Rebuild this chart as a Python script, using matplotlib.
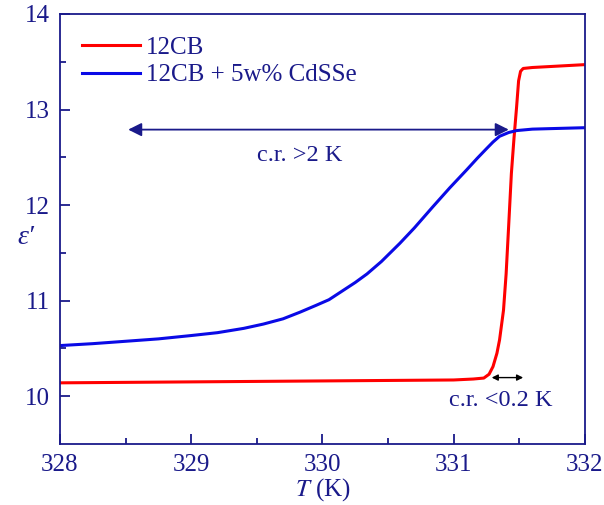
import matplotlib
matplotlib.use("Agg")
import matplotlib.pyplot as plt

NAVY = "#1a1a8a"

# 12CB (red)
t_pure = [328.0, 328.5, 329.0, 329.5, 330.0, 330.5, 331.0, 331.15, 331.23,
          331.27, 331.30, 331.33, 331.35, 331.38, 331.40, 331.42, 331.44,
          331.46, 331.48, 331.495, 331.51, 331.53, 331.6, 331.8, 332.0]
eps_pure = [10.14, 10.145, 10.15, 10.155, 10.16, 10.165, 10.17, 10.18, 10.19,
            10.23, 10.31, 10.45, 10.59, 10.90, 11.28, 11.80, 12.33,
            12.70, 13.03, 13.30, 13.40, 13.43, 13.44, 13.455, 13.47]

# 12CB + 5w% CdSSe (blue)
t_dop = [328.0, 328.25, 328.5, 328.75, 329.0, 329.2, 329.4, 329.55, 329.7,
         329.83, 329.95, 330.05, 330.15, 330.25, 330.34, 330.45, 330.59,
         330.7, 330.84, 330.97, 331.10, 331.18, 331.25, 331.30, 331.35,
         331.42, 331.48, 331.6, 331.73, 332.0]
eps_dop = [10.53, 10.55, 10.575, 10.60, 10.635, 10.665, 10.71, 10.755, 10.81,
           10.88, 10.95, 11.01, 11.10, 11.19, 11.28, 11.41, 11.60,
           11.76, 11.98, 12.18, 12.37, 12.49, 12.59, 12.66, 12.72,
           12.76, 12.78, 12.795, 12.80, 12.81]

x_ticks = [328, 329, 330, 331, 332]
y_ticks = [10, 11, 12, 13, 14]

plt.rcParams["font.family"] = ["Liberation Serif", "DejaVu Serif"]
plt.rcParams["mathtext.fontset"] = "stix"

fig = plt.figure(figsize=(6.04, 5.05), dpi=100)
ax = fig.add_axes([0.0993, 0.1208, 0.869, 0.8515])

ax.plot(t_pure, eps_pure, color="#ff0000", lw=2.2, label="12CB")
ax.plot(t_dop, eps_dop, color="#0a0ae6", lw=2.2, label="12CB + 5w% CdSSe")

ax.set_xlim(328, 332)
ax.set_ylim(9.5, 14)
ax.set_xticks(x_ticks)
ax.set_yticks(y_ticks)
ax.set_xticks([328.5, 329.5, 330.5, 331.5], minor=True)
ax.set_yticks([10.5, 11.5, 12.5, 13.5], minor=True)

for s in ax.spines.values():
    s.set_color(NAVY)
    s.set_linewidth(1.3)
ax.tick_params(which="both", direction="in", color=NAVY, width=1.3,
               labelcolor=NAVY, labelsize=18, top=False, right=False)
ax.tick_params(which="major", length=7, pad=7)
ax.tick_params(which="minor", length=4)

ax.set_xlabel("$T$ (K)", color=NAVY, fontsize=18, labelpad=0)
ax.set_ylabel("ε′", color=NAVY, fontsize=20, style="italic",
              rotation=0, labelpad=2, va="center")
ax.yaxis.set_label_coords(-0.065, 0.48)

# critical range annotations
ax.annotate("", xy=(328.52, 12.79), xytext=(331.42, 12.79),
            arrowprops=dict(arrowstyle="<|-|>", color=NAVY, lw=1.3,
                            mutation_scale=20, shrinkA=0, shrinkB=0))
ax.text(329.83, 12.52, "c.r. >2 K", color=NAVY, fontsize=17.5,
        ha="center", va="center")
ax.annotate("", xy=(331.29, 10.195), xytext=(331.53, 10.195),
            arrowprops=dict(arrowstyle="<|-|>", color="black", lw=1.0,
                            mutation_scale=9, shrinkA=0, shrinkB=0))
ax.text(331.36, 9.95, "c.r. <0.2 K", color=NAVY, fontsize=17.5,
        ha="center", va="center")

leg = ax.legend(loc="upper left", frameon=False, fontsize=18,
                handlelength=2.3, handletextpad=0.25, labelspacing=0.2,
                borderaxespad=0.5)
for txt in leg.get_texts():
    txt.set_color(NAVY)

fig.savefig("out.png", dpi=100)
